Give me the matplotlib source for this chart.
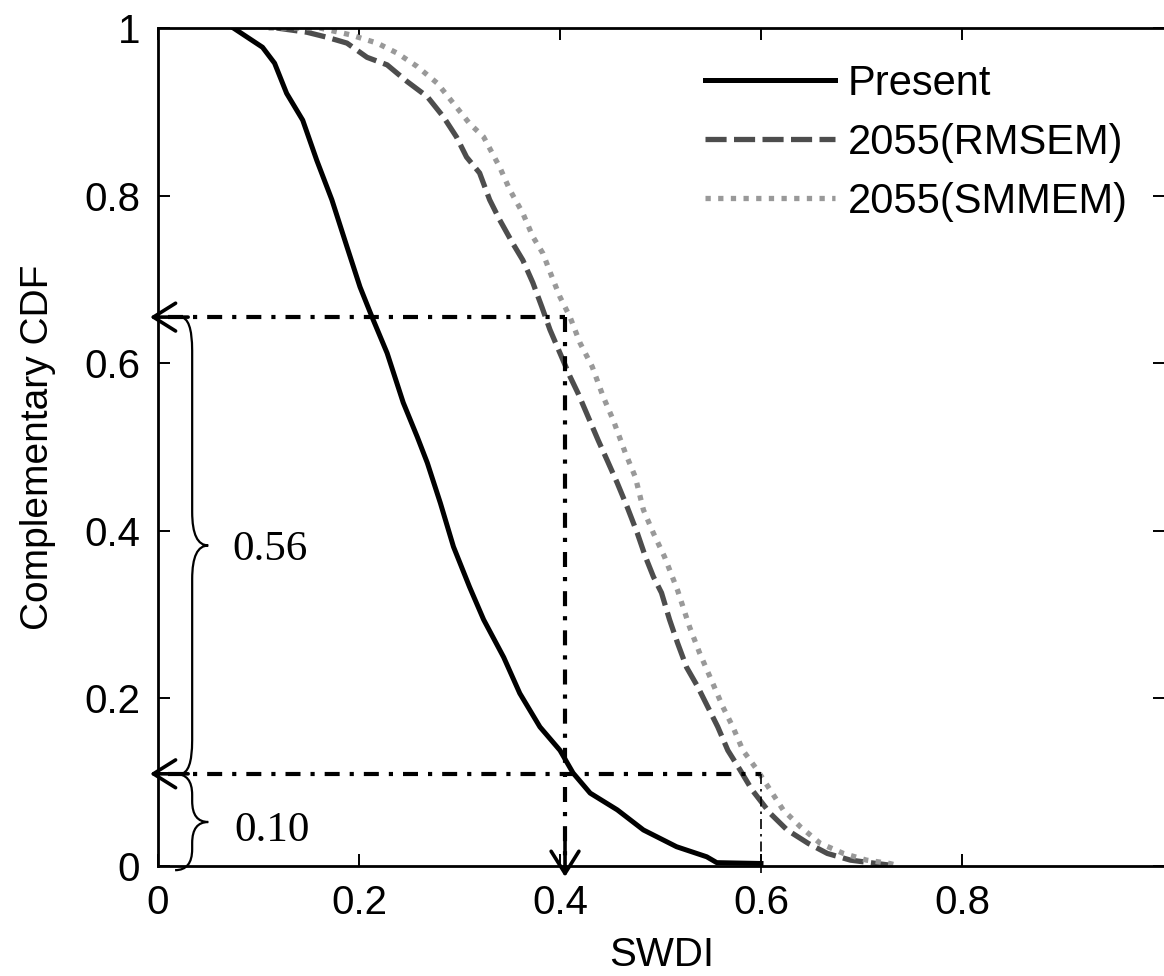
import matplotlib
matplotlib.use('Agg')
import matplotlib.pyplot as plt
from matplotlib.path import Path
from matplotlib.patches import PathPatch

plt.rcParams['font.family'] = ['Liberation Sans', 'DejaVu Sans']

# complementary CDF curves
present_x = [0.075, 0.104, 0.116, 0.128, 0.144, 0.158, 0.173, 0.188, 0.201, 0.213,
             0.228, 0.244, 0.258, 0.268, 0.281, 0.294, 0.310, 0.324, 0.344, 0.360,
             0.380, 0.400, 0.413, 0.430, 0.457, 0.483, 0.516, 0.546, 0.556, 0.600]
present_y = [1.0, 0.977, 0.958, 0.922, 0.890, 0.842, 0.795, 0.739, 0.691, 0.655,
             0.612, 0.553, 0.512, 0.481, 0.433, 0.381, 0.333, 0.294, 0.249, 0.206,
             0.166, 0.138, 0.111, 0.087, 0.067, 0.043, 0.023, 0.011, 0.004, 0.003]

rmsem_x = [0.118, 0.148, 0.168, 0.188, 0.208, 0.228, 0.248, 0.268, 0.284, 0.297,
           0.307, 0.320, 0.330, 0.340, 0.353, 0.363, 0.373, 0.382, 0.390, 0.400,
           0.410, 0.418, 0.428, 0.438, 0.447, 0.457, 0.467, 0.477, 0.485, 0.493,
           0.501, 0.509, 0.517, 0.526, 0.537, 0.547, 0.557, 0.567, 0.579, 0.591,
           0.609, 0.626, 0.647, 0.666, 0.689, 0.715, 0.735]
rmsem_y = [1.0, 0.995, 0.989, 0.982, 0.965, 0.956, 0.936, 0.918, 0.894, 0.870,
           0.846, 0.827, 0.795, 0.771, 0.743, 0.723, 0.696, 0.667, 0.640, 0.612,
           0.584, 0.564, 0.536, 0.508, 0.484, 0.457, 0.428, 0.397, 0.369, 0.345,
           0.326, 0.294, 0.266, 0.237, 0.214, 0.190, 0.166, 0.138, 0.115, 0.091,
           0.063, 0.043, 0.027, 0.015, 0.007, 0.003, 0.0]

smmem_x = [0.110, 0.161, 0.191, 0.218, 0.238, 0.258, 0.278, 0.294, 0.310, 0.324,
           0.340, 0.350, 0.363, 0.373, 0.383, 0.392, 0.400, 0.410, 0.420, 0.432,
           0.443, 0.453, 0.465, 0.475, 0.483, 0.493, 0.504, 0.517, 0.529, 0.539,
           0.552, 0.562, 0.572, 0.582, 0.596, 0.609, 0.622, 0.639, 0.659, 0.682,
           0.705, 0.728, 0.738]
smmem_y = [1.0, 1.0, 0.992, 0.982, 0.970, 0.954, 0.934, 0.910, 0.886, 0.870,
           0.834, 0.807, 0.779, 0.751, 0.731, 0.703, 0.679, 0.655, 0.624, 0.596,
           0.560, 0.532, 0.493, 0.464, 0.425, 0.397, 0.369, 0.329, 0.285, 0.254,
           0.218, 0.190, 0.166, 0.138, 0.115, 0.091, 0.067, 0.047, 0.027, 0.015,
           0.007, 0.003, 0.0]

labels = ['Present', '2055(RMSEM)', '2055(SMMEM)']

# reading guides
swdi_now = 0.405      # SWDI where future ccdf hits the upper level
swdi_future = 0.6     # SWDI where future ccdf hits the lower level
level_hi = 0.655
level_lo = 0.11
brace_texts = ['0.56', '0.10']

xticks = [0, 0.2, 0.4, 0.6, 0.8]
xticklabels = ['0', '0.2', '0.4', '0.6', '0.8']
yticks = [0, 0.2, 0.4, 0.6, 0.8, 1.0]
yticklabels = ['0', '0.2', '0.4', '0.6', '0.8', '1']

fig = plt.figure(figsize=(11.64, 9.76), dpi=100)
ax = fig.add_axes([158 / 1164, 110 / 976, 1007 / 1164, 838 / 976])

ax.plot(present_x, present_y, color='black', lw=3.6, label=labels[0])
ax.plot(rmsem_x, rmsem_y, color='#4d4d4d', lw=3.8, linestyle=(0, (4.0, 1.4)),
        label=labels[1])
ax.plot(smmem_x, smmem_y, color='#999999', lw=3.8, linestyle=(0, (1, 1.4)),
        label=labels[2])

ax.set_xlim(0, 1.002)
ax.set_ylim(0, 1)
ax.set_xticks(xticks)
ax.set_xticklabels(xticklabels)
ax.set_yticks(yticks)
ax.set_yticklabels(yticklabels)
ax.tick_params(direction='in', length=8.6, width=1.4, labelsize=29, pad=13,
               top=True, right=True)
for s in ax.spines.values():
    s.set_linewidth(2)

ax.set_xlabel('SWDI', fontsize=29, labelpad=10)
ax.set_ylabel('Complementary CDF', fontsize=28, labelpad=20)

# dash-dot reading lines
dd = (0, (3.6, 2.4, 1.0, 2.4))
ax.plot([0.01, swdi_now], [level_hi, level_hi], color='black', lw=3,
        linestyle=dd, clip_on=False)
ax.plot([swdi_now, swdi_now], [level_hi, 0.0], color='black', lw=3,
        linestyle=dd, clip_on=False)
ax.plot([0.01, swdi_future], [level_lo, level_lo], color='black', lw=3,
        linestyle=dd, clip_on=False)
ax.plot([swdi_future, swdi_future], [level_lo, -0.008], color='black', lw=1.2,
        linestyle=(0, (6, 3, 1.5, 3)), clip_on=False)

arrow = dict(arrowstyle='->,head_length=0.8,head_width=0.5', lw=2.6,
             color='black', mutation_scale=20, shrinkA=0, shrinkB=0)
for lev in [level_hi, level_lo]:
    ax.annotate('', xy=(-0.008, lev), xytext=(0.03, lev), arrowprops=arrow,
                annotation_clip=False)
ax.annotate('', xy=(swdi_now, -0.013), xytext=(swdi_now, 0.03),
            arrowprops=arrow, annotation_clip=False)


def brace(ax, y0, y1, x_tip, x_v, x_cusp, r):
    ym = (y0 + y1) / 2
    verts = [(x_tip, y1), (x_v, y1), (x_v, y1 - r), (x_v, ym + r),
             (x_v, ym), (x_cusp, ym), (x_v, ym), (x_v, ym - r),
             (x_v, y0 + r), (x_v, y0), (x_tip, y0)]
    codes = [Path.MOVETO, Path.CURVE3, Path.CURVE3, Path.LINETO,
             Path.CURVE3, Path.CURVE3, Path.CURVE3, Path.CURVE3,
             Path.LINETO, Path.CURVE3, Path.CURVE3]
    ax.add_patch(PathPatch(Path(verts, codes), fill=False, lw=1.6,
                           color='black', clip_on=False))
    return ym


ym1 = brace(ax, level_lo, level_hi, 0.022, 0.034, 0.05, 0.04)
ym2 = brace(ax, -0.005, level_lo, 0.017, 0.034, 0.05, 0.025)
ax.text(0.074, ym1 - 0.005, brace_texts[0], fontsize=31, va='center',
        family='Liberation Serif')
ax.text(0.076, ym2 - 0.01, brace_texts[1], fontsize=31, va='center',
        family='Liberation Serif')

ax.legend(loc='upper left', bbox_to_anchor=(0.543, 0.957), frameon=False,
          fontsize=30, handlelength=3.12, handletextpad=0.31, labelspacing=0.45,
          borderpad=0, borderaxespad=0)

fig.savefig('out.png', dpi=100)
